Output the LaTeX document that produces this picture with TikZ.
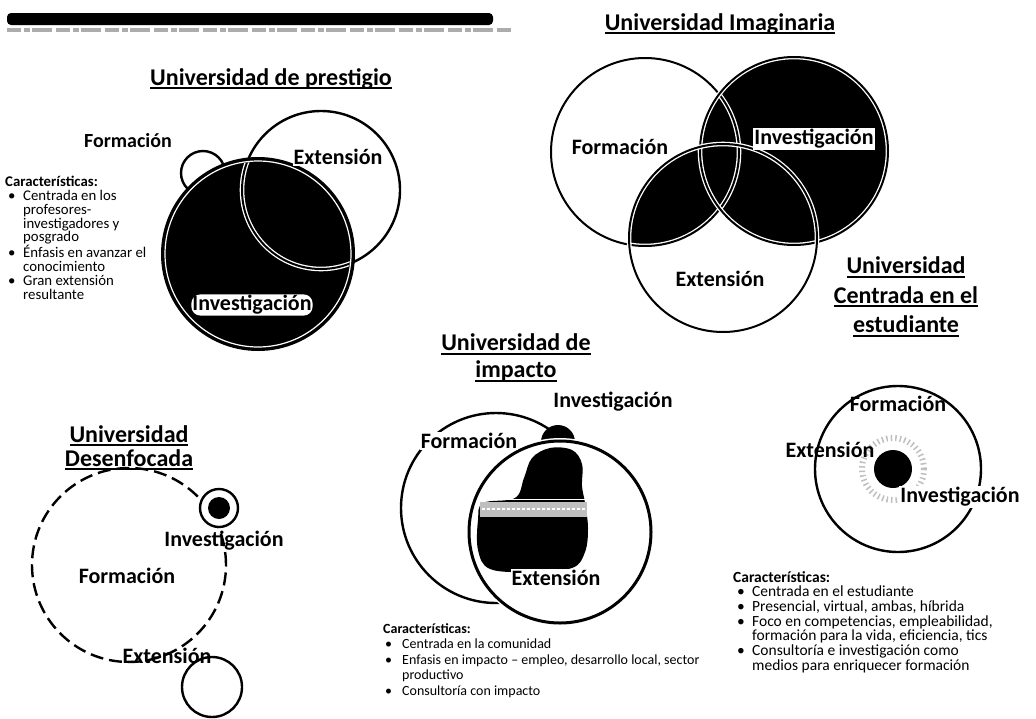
\documentclass[tikz,border=0pt]{standalone}
\usepackage{fontspec}
\setmainfont{Carlito}
\newcommand\myul[1]{\setbox0=\hbox{#1}\rlap{\copy0}\rule[-4pt]{\wd0}{2pt}}
\newlength\bpre \newlength\bind
\newcommand\setbul[2]{\global\bpre=#1\global\bind=#2\relax}
\newcommand\bul{\makebox[\bind][l]{\hspace{\bpre}\textbullet}}
\newcommand\ind{\hspace*{\bind}}
\tikzset{
 lbl/.style={font=\fontsize{22}{26}\selectfont\bfseries, inner sep=1pt},
 wlbl/.style={lbl, fill=white},
 ttl/.style={font=\fontsize{24}{26}\selectfont\bfseries, inner sep=0pt, align=center},
 circ/.style={line width=2.4pt},
 lst/.style={align=left, anchor=north west, inner sep=0pt},
 vline/.style={draw=white, line width=1.3pt, double=black, double distance=2pt},
}
\begin{document}
\begin{tikzpicture}[x=1pt,y=-1pt]
\useasboundingbox (0,0) rectangle (1036,718);
% top bar
\fill[rounded corners=4pt] (7,13) rectangle (493,25);
\draw[gray!65, line width=3.5pt, dash pattern=on 14pt off 3pt on 6pt off 2pt on 20pt off 4pt] (7,30) -- (513,30);

% ---------- Universidad de prestigio
\node[ttl] (t1) at (271,79) {\myul{Universidad de prestigio}};
\draw[circ, fill=white] (203,173) circle[radius=22pt];
\draw[circ, fill=white] (321,190) circle[radius=79pt];
\fill (258,254) circle[radius=97pt];
\draw[white, line width=1.2pt] (258,254) circle[radius=93pt];
\begin{scope}
\clip (258,254) circle[radius=92pt];
\draw[vline] (321,190) circle[radius=79pt];
\end{scope}
\node[lbl, font=\fontsize{20}{24}\selectfont\bfseries] (f1) at (128,141) {Formación};
\node[wlbl] (e1) at (338,157) {Extensión};
\node[wlbl, rounded corners=9pt] (i1) at (252,305) {Investigación};
\node[lst, font=\fontsize{14.8}{13.8}\selectfont] (c1) at (5,176) {\setbul{3pt}{18pt}\textbf{Características:}\\ \bul Centrada en los\\ \ind profesores-\\ \ind investigadores y\\ \ind posgrado\\ \bul Énfasis en avanzar el\\ \ind conocimiento\\ \bul Gran extensión\\ \ind resultante};

% ---------- Universidad Imaginaria
\node[ttl] (t2) at (720,24) {\myul{Universidad Imaginaria}};
\fill (794,151) circle[radius=94pt];
\begin{scope}
\clip (645,152) circle[radius=94pt];
\fill (723,238) circle[radius=94pt];
\end{scope}
\foreach \c in {(645,152),(794,151),(723,238)} \draw[vline] \c circle[radius=94pt];
\node[lbl] (f2) at (620,147) {Formación};
\node[wlbl] (i2) at (814,139) {Investigación};
\node[lbl] (e2) at (720,279) {Extensión};

% ---------- Universidad Centrada en el estudiante
\node[ttl, font=\fontsize{24}{29.5}\selectfont\bfseries] (t3) at (906,297) {\myul{Universidad}\\\myul{Centrada en el}\\\myul{estudiante}};
\draw[circ] (898,469) circle[radius=83pt];
\draw[gray!50, line width=6pt, dash pattern=on 1.5pt off 3pt] (893,469) circle[radius=31pt];
\fill (893,469) circle[radius=19pt];
\node[lbl] (f6) at (898,404) {Formación};
\node[lbl] (e6) at (830,450) {Extensión};
\node[wlbl] (i6) at (960,497) {Investigación};
\node[lst, font=\fontsize{15.5}{14.7}\selectfont] (c6) at (733,571) {\setbul{4pt}{19pt}\textbf{Características:}\\ \bul Centrada en el estudiante\\ \bul Presencial, virtual, ambas, híbrida\\ \bul Foco en competencias, empleabilidad,\\ \ind formación para la vida, eficiencia, tics\\ \bul Consultoría e investigación como\\ \ind medios para enriquecer formación};

% ---------- Universidad Desenfocada
\node[ttl, font=\fontsize{24}{24}\selectfont\bfseries] (t4) at (129,448) {\myul{Universidad}\\\myul{Desenfocada}};
\draw[circ, dash pattern=on 13pt off 6pt] (129,565) circle[radius=97pt];
\draw[circ, fill=white] (219,508) circle[radius=19pt];
\fill (219,508) circle[radius=11pt];
\draw[circ] (212,687) circle[radius=30pt];
\node[lbl] (i4) at (224,541) {Investigación};
\node[lbl] (f4) at (127,576) {Formación};
\node[lbl] (e4) at (167,656) {Extensión};

% ---------- Universidad de impacto
\node[ttl, font=\fontsize{24}{27}\selectfont\bfseries] (t5) at (516,358) {\myul{Universidad de}\\\myul{impacto}};
\draw[circ, fill=white] (496,508) circle[radius=95pt];
\fill (558,442) circle[radius=17pt];
\draw[draw=white, line width=1.5pt, double=black, double distance=3pt, fill=white] (560,532) circle[radius=91pt];
\fill plot[smooth cycle, tension=0.6] coordinates {(550,448) (572,450) (582,464) (582,486) (585,503) (588,528) (585,552) (572,568) (530,572) (490,569) (478,550) (478,520) (483,503) (515,498) (524,478) (532,458)};
\draw[white, line width=1pt] (480,499) -- (586,499);
\fill[gray!50] (480,502) rectangle (587,517);
\draw[white, line width=1.2pt, dash pattern=on 3pt off 2pt] (482,509) -- (585,509);
\node[wlbl] (f5) at (469,441) {Formación};
\node[wlbl] (e5) at (556,578) {Extensión};
\node[lbl] (i5) at (613,402) {Investigación};
\node[lst, font=\fontsize{14}{15.5}\selectfont] (c5) at (383,623) {\setbul{2pt}{19pt}\textbf{Características:}\\ \bul Centrada en la comunidad\\ \bul Enfasis en impacto – empleo, desarrollo local, sector\\ \ind productivo\\ \bul Consultoría con impacto};
\end{tikzpicture}
\end{document}
